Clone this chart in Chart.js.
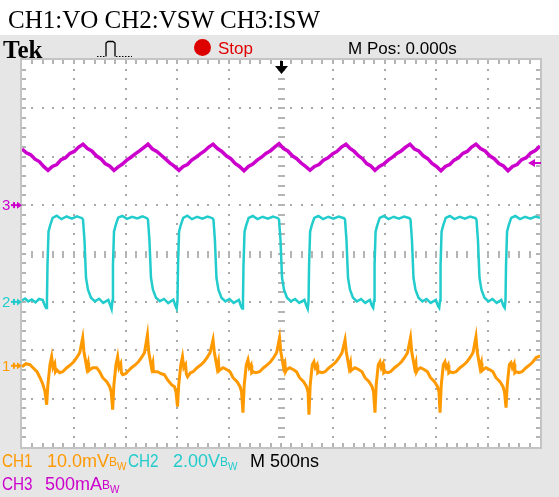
<!DOCTYPE html>
<html>
<head>
<meta charset="utf-8">
<script src="https://cdn.jsdelivr.net/npm/chart.js@4.4.0/dist/chart.umd.min.js"></script>
<style>
  html, body { margin: 0; padding: 0; }
  body { width: 559px; height: 497px; position: relative; overflow: hidden; background: #fff; font-family: 'Liberation Sans', Arial, sans-serif; }
  #band { position: absolute; left: 0; top: 35px; width: 559px; height: 462px; background: #e6e6e6; }
  #scope { position: absolute; left: 0; top: 0; }
  .t { position: absolute; white-space: nowrap; line-height: 1; }
  #title { left: 8px; top: 6px; font: 25px 'Liberation Serif', 'Times New Roman', serif; color: #000; }
  #tek { left: 3px; top: 36px; font: bold 25px 'Liberation Serif', 'Times New Roman', serif; color: #000; }
  #stopDot { position: absolute; left: 194px; top: 39px; width: 17px; height: 17px; border-radius: 50%; background: #dd0000; }
  #stop { left: 218px; top: 40px; font-size: 17px; color: #e00000; }
  #mpos { left: 348px; top: 40px; font-size: 17px; color: #000; }
  .foot { font-size: 18px; }
  .narrow { transform: scaleX(0.85); transform-origin: left center; }
  .bw { font-size: 12px; position: relative; top: -1px; }
  .bw sub { font-size: 10px; vertical-align: -4px; }
  .gnd { font-size: 15px; }
</style>
</head>
<body>
<div id="band"></div>
<canvas id="scope" width="559" height="497"></canvas>

<div class="t" id="title">CH1:VO CH2:VSW CH3:ISW</div>
<div class="t" id="tek">Tek</div>
<svg style="position:absolute;left:97px;top:40px" width="36" height="18">
  <path d="M0 16.5 H9 M19 16.5 H35" stroke="#000" stroke-width="1.2" stroke-dasharray="1.5 1.5"/>
  <path d="M9 16.5 V3 L11 1.5 H16 L18 3 V16.5" fill="none" stroke="#000" stroke-width="1.3"/>
</svg>
<div id="stopDot"></div>
<div class="t" id="stop">Stop</div>
<div class="t" id="mpos">M Pos: 0.000s</div>

<div class="t foot narrow" style="left:2px;top:452px;color:#ff9900">CH1</div>
<div class="t foot" style="left:47px;top:452px;color:#ff9900">10.0mV<span class="bw">B<sub>W</sub></span></div>
<div class="t foot narrow" style="left:128px;top:452px;color:#22cccc">CH2</div>
<div class="t foot" style="left:173px;top:452px;color:#22cccc">2.00V<span class="bw">B<sub>W</sub></span></div>
<div class="t foot" style="left:250px;top:452px;color:#000">M 500ns</div>
<div class="t foot narrow" style="left:2px;top:475px;color:#cc00cc">CH3</div>
<div class="t foot" style="left:45px;top:475px;color:#cc00cc">500mA<span class="bw">B<sub>W</sub></span></div>

<div class="t gnd" id="gnd1" style="left:2px;color:#ff9900">1</div>
<div class="t gnd" id="gnd2" style="left:2px;color:#22cccc">2</div>
<div class="t gnd" id="gnd3" style="left:2px;color:#cc00cc">3</div>

<script>
// ── Réglages de l'oscillo ────────────────────────────────────────────────
const NS_PER_DIV = 500;
const T_MIN = -2500;
const T_MAX = 2500;
const DIVS_Y = 4;

const VO_MV_PER_DIV = 10;      // CH1
const VSW_V_PER_DIV = 2;       // CH2
const ISW_A_PER_DIV = 0.5;     // CH3
const VO_GROUND_DIV = -2.32;
const VSW_GROUND_DIV = -1;
const ISW_GROUND_DIV = 1;
const ISW_TRIGGER_A = 0.435;

// CH3 : courant de l'interrupteur (A)
const iswTrace = [
  [-2500, 0.58], [-2458, 0.54], [-2416, 0.52], [-2374, 0.475], [-2333, 0.45], [-2291, 0.40], [-2249, 0.36],
  [-2207, 0.40], [-2164, 0.42], [-2122, 0.47], [-2080, 0.49], [-2038, 0.535], [-1996, 0.555], [-1953, 0.60], [-1911, 0.63],
  [-1868, 0.585], [-1826, 0.56], [-1783, 0.51], [-1740, 0.48], [-1698, 0.43], [-1655, 0.405], [-1612, 0.36],
  [-1571, 0.395], [-1530, 0.425], [-1489, 0.465], [-1448, 0.495], [-1407, 0.53], [-1366, 0.56], [-1325, 0.595], [-1284, 0.63],
  [-1241, 0.58], [-1199, 0.555], [-1156, 0.515], [-1113, 0.475], [-1071, 0.435], [-1028, 0.40], [-985, 0.36],
  [-944, 0.40], [-903, 0.42], [-862, 0.465], [-821, 0.495], [-779, 0.53], [-738, 0.56], [-697, 0.60], [-656, 0.63],
  [-613, 0.585], [-571, 0.555], [-528, 0.51], [-485, 0.48], [-443, 0.43], [-400, 0.40], [-357, 0.355],
  [-315, 0.40], [-272, 0.425], [-230, 0.465], [-188, 0.495], [-146, 0.535], [-104, 0.56], [-61, 0.60], [-19, 0.635],
  [24, 0.585], [66, 0.56], [109, 0.51], [152, 0.48], [194, 0.435], [237, 0.40], [280, 0.36],
  [323, 0.40], [367, 0.42], [410, 0.465], [454, 0.49], [497, 0.53], [540, 0.555], [584, 0.60], [627, 0.63],
  [667, 0.585], [707, 0.555], [747, 0.51], [787, 0.48], [827, 0.43], [867, 0.405], [907, 0.36],
  [949, 0.40], [992, 0.425], [1034, 0.465], [1076, 0.495], [1118, 0.535], [1160, 0.56], [1203, 0.60], [1245, 0.63],
  [1288, 0.58], [1330, 0.56], [1373, 0.51], [1416, 0.48], [1458, 0.43], [1501, 0.40], [1544, 0.355],
  [1586, 0.40], [1629, 0.42], [1671, 0.465], [1713, 0.49], [1755, 0.535], [1797, 0.555], [1840, 0.60], [1882, 0.63],
  [1926, 0.585], [1970, 0.56], [2014, 0.51], [2058, 0.48], [2103, 0.43], [2147, 0.405], [2191, 0.355],
  [2235, 0.40], [2279, 0.42], [2323, 0.47], [2367, 0.49], [2411, 0.54], [2455, 0.565], [2500, 0.61],
];

// CH2 : tension du noeud de commutation (V)
const vswTrace = [
  [-2500, 0.06], [-2470, 0.14], [-2440, 0.02], [-2405, 0.10], [-2370, -0.02], [-2335, 0.12],
  [-2299, 0.08], [-2279, -0.17], [-2267, -0.25], [-2259, 0.05], [-2254, 1.50], [-2244, 2.90], [-2229, 3.15],
  [-2204, 3.47], [-2164, 3.56], [-2119, 3.42], [-2069, 3.53], [-2019, 3.44], [-1969, 3.54], [-1921, 3.46],
  [-1911, 3.40], [-1897, 2.56], [-1882, 0.99], [-1863, 0.50], [-1834, 0.17], [-1796, 0.02], [-1756, 0.13], [-1716, -0.04],
  [-1667, 0.08], [-1647, -0.15], [-1635, -0.30], [-1627, 0.05], [-1622, 1.50], [-1612, 2.90], [-1597, 3.15],
  [-1572, 3.48], [-1532, 3.55], [-1487, 3.43], [-1437, 3.52], [-1387, 3.45], [-1337, 3.54], [-1294, 3.46],
  [-1284, 3.40], [-1270, 2.56], [-1255, 0.99], [-1236, 0.50], [-1207, 0.17], [-1169, 0.03], [-1129, 0.12], [-1089, -0.05],
  [-1039, 0.09], [-1019, -0.17], [-1007, -0.28], [-999, 0.05], [-994, 1.50], [-984, 2.90], [-969, 3.15],
  [-944, 3.47], [-904, 3.56], [-859, 3.42], [-809, 3.52], [-759, 3.44], [-709, 3.53], [-662, 3.46],
  [-652, 3.40], [-638, 2.56], [-623, 0.99], [-604, 0.50], [-575, 0.17], [-537, 0.02], [-497, 0.12], [-457, -0.04],
  [-407, 0.08], [-387, -0.17], [-375, -0.27], [-367, 0.05], [-362, 1.50], [-352, 2.90], [-337, 3.15],
  [-312, 3.47], [-272, 3.55], [-227, 3.42], [-177, 3.52], [-127, 3.44], [-77, 3.53], [-29, 3.46],
  [-19, 3.40], [-5, 2.56], [10, 0.99], [29, 0.50], [58, 0.17], [96, 0.02], [136, 0.12], [176, -0.04],
  [226, 0.08], [246, -0.17], [258, -0.29], [266, 0.05], [271, 1.50], [281, 2.90], [296, 3.15],
  [321, 3.47], [361, 3.55], [406, 3.42], [456, 3.52], [506, 3.44], [556, 3.53], [608, 3.46],
  [618, 3.40], [632, 2.56], [647, 0.99], [666, 0.50], [695, 0.17], [733, 0.02], [773, 0.12], [813, -0.04],
  [858, 0.08], [878, -0.17], [890, -0.25], [898, 0.05], [903, 1.50], [913, 2.90], [928, 3.15],
  [953, 3.47], [993, 3.55], [1038, 3.42], [1088, 3.52], [1138, 3.44], [1188, 3.53], [1240, 3.46],
  [1250, 3.40], [1264, 2.56], [1279, 0.99], [1298, 0.50], [1327, 0.17], [1365, 0.02], [1405, 0.12], [1445, -0.04],
  [1495, 0.08], [1515, -0.17], [1527, -0.25], [1535, 0.05], [1540, 1.50], [1550, 2.90], [1565, 3.15],
  [1590, 3.47], [1630, 3.55], [1675, 3.42], [1725, 3.52], [1775, 3.44], [1825, 3.53], [1877, 3.46],
  [1887, 3.40], [1901, 2.56], [1916, 0.99], [1935, 0.50], [1964, 0.17], [2002, 0.02], [2042, 0.12], [2082, -0.04],
  [2127, 0.08], [2147, -0.17], [2159, -0.25], [2167, 0.05], [2172, 1.50], [2182, 2.90], [2197, 3.15],
  [2222, 3.47], [2262, 3.55], [2307, 3.42], [2357, 3.52], [2407, 3.44], [2457, 3.53], [2500, 3.48],
];

// CH1 : ondulation de la tension de sortie (mV)
const voTrace = [
  [-2500, -0.21], [-2462, 0.41], [-2423, 0.21], [-2394, -0.41], [-2355, -1.24], [-2326, -2.48], [-2297, -3.93], [-2278, -5.37],
  [-2262, -8.06], [-2250, -3.93], [-2230, 0.21], [-2214, 1.86], [-2201, -0.41], [-2184, 0.41], [-2177, -1.24], [-2165, -0.83], [-2137, -1.45],
  [-2107, -1.24], [-2068, -0.41], [-2030, 0.21], [-2001, 0.83], [-1972, 1.65], [-1943, 2.69], [-1914, 5.78],
  [-1902, 2.89], [-1875, -0.41], [-1862, 0.62], [-1856, -1.03], [-1846, -0.83], [-1817, -0.41], [-1779, -0.41], [-1750, -1.24], [-1721, -2.48],
  [-1682, -3.31], [-1653, -4.34], [-1639, -5.37],
  [-1625, -9.09], [-1613, -3.93], [-1593, 0.21], [-1577, 1.86], [-1564, -0.41], [-1547, 0.41], [-1540, -1.45], [-1528, -1.86], [-1500, -1.66],
  [-1482, -1.24], [-1443, -0.41], [-1405, 0.21], [-1376, 0.83], [-1347, 1.65], [-1318, 2.69], [-1289, 6.40],
  [-1277, 2.89], [-1250, -0.41], [-1237, 0.62], [-1231, -1.24], [-1221, -1.24], [-1192, -1.24], [-1154, -1.66], [-1125, -1.86], [-1096, -2.89],
  [-1057, -3.93], [-1028, -4.34], [-1014, -5.37],
  [-999, -8.47], [-987, -3.93], [-967, 0.21], [-951, 1.86], [-938, -0.41], [-921, 0.21], [-914, -1.66], [-902, -2.27], [-874, -1.45],
  [-849, -1.24], [-810, -0.41], [-772, 0.21], [-743, 0.83], [-714, 1.65], [-685, 2.69], [-656, 5.37],
  [-644, 2.89], [-617, -0.41], [-604, 0.83], [-598, -1.03], [-588, -0.83], [-559, -0.41], [-521, -0.83], [-492, -1.24], [-463, -2.48],
  [-424, -3.31], [-395, -4.34], [-381, -5.37],
  [-367, -9.71], [-355, -3.93], [-335, 0.21], [-319, 1.24], [-306, -0.41], [-289, 0.21], [-282, -1.45], [-270, -1.24], [-242, -1.45],
  [-207, -1.24], [-168, -0.41], [-130, 0.21], [-101, 0.83], [-72, 1.65], [-43, 2.69], [-14, 5.78],
  [-2, 2.89], [25, -0.41], [38, 0.41], [44, -1.24], [54, -0.83], [83, -0.41], [121, -0.83], [150, -1.24], [179, -2.48],
  [218, -3.31], [247, -4.34], [261, -5.37],
  [270, -10.12], [282, -3.93], [302, 0.21], [318, 0.83], [331, -0.41], [348, 0.21], [355, -1.45], [367, -1.24], [395, -1.45],
  [425, -1.24], [464, -0.41], [502, 0.21], [531, 0.83], [560, 1.65], [589, 2.69], [618, 5.37],
  [630, 2.89], [657, -0.41], [670, 0.62], [676, -1.03], [686, -0.83], [715, -0.41], [753, -0.83], [782, -1.24], [811, -2.48],
  [850, -3.31], [879, -4.34], [893, -5.37],
  [907, -9.71], [919, -3.93], [939, 0.21], [955, 0.83], [968, -0.41], [985, 0.41], [992, -1.45], [1004, -1.24], [1032, -1.45],
  [1057, -1.24], [1096, -0.41], [1134, 0.21], [1163, 0.83], [1192, 1.65], [1221, 2.69], [1250, 5.78],
  [1262, 2.89], [1289, -0.41], [1302, 0.62], [1308, -1.24], [1318, -0.83], [1347, -0.41], [1385, -0.83], [1414, -1.24], [1443, -2.48],
  [1482, -3.31], [1511, -4.34], [1525, -5.37],
  [1535, -9.71], [1547, -3.93], [1567, 0.21], [1583, 0.83], [1596, -0.41], [1613, 0.21], [1620, -1.45], [1632, -1.24], [1660, -1.45],
  [1689, -1.24], [1728, -0.41], [1766, 0.21], [1795, 0.83], [1824, 1.65], [1853, 2.69], [1882, 5.99],
  [1894, 2.89], [1921, -0.41], [1934, 0.62], [1940, -1.03], [1950, -0.83], [1979, -0.41], [2017, -0.83], [2046, -1.24], [2075, -2.48],
  [2114, -3.31], [2143, -4.34], [2157, -5.37],
  [2172, -8.68], [2184, -3.93], [2204, 0.21], [2220, 0.62], [2233, -0.41], [2250, 0.41], [2257, -1.45], [2269, -1.24], [2297, -1.45],
  [2326, -1.24], [2365, -0.41], [2403, 0.21], [2432, 0.83], [2461, 1.65], [2500, 2.07],
];

// ── Canaux ───────────────────────────────────────────────────────────────

const channels = [
  { name: 'CH1', trace: voTrace, perDiv: VO_MV_PER_DIV, ground: VO_GROUND_DIV, color: '#ff9900', width: 3 },
  { name: 'CH2', trace: vswTrace, perDiv: VSW_V_PER_DIV, ground: VSW_GROUND_DIV, color: '#22cccc', width: 2.5 },
  { name: 'CH3', trace: iswTrace, perDiv: ISW_A_PER_DIV, ground: ISW_GROUND_DIV, color: '#cc00cc', width: 3.5 },
];

const toDiv = (ch, v) => ch.ground + v / ch.perDiv;

// Graticule + marqueurs façon écran Tek
const scopeDecor = {
  id: 'scopeDecor',
  beforeDraw(chart) {
    const { ctx, chartArea: a, scales: { x, y } } = chart;
    ctx.save();
    ctx.fillStyle = '#fff';
    ctx.fillRect(a.left, a.top, a.right - a.left, a.bottom - a.top);

    // lignes pointillées
    ctx.fillStyle = '#a8a8a8';
    for (let i = 1; i < 10; i++) {
      const px = Math.round(x.getPixelForValue(T_MIN + i * NS_PER_DIV));
      for (let j = 1; j < DIVS_Y * 10; j++) {
        const py = Math.round(y.getPixelForValue(-DIVS_Y + j * 0.2));
        ctx.fillRect(px - 1, py - 1, 2, 2);
      }
    }
    for (let j = 1; j < DIVS_Y * 2; j++) {
      const py = Math.round(y.getPixelForValue(-DIVS_Y + j));
      for (let i = 1; i < 50; i++) {
        const px = Math.round(x.getPixelForValue(T_MIN + i * NS_PER_DIV / 5));
        ctx.fillRect(px - 1, py - 1, 2, 2);
      }
    }

    // graduations des axes centraux
    ctx.fillStyle = '#b4b4b4';
    const cx = Math.round(x.getPixelForValue(0));
    const cy = Math.round(y.getPixelForValue(0));
    for (let j = 1; j < DIVS_Y * 10; j++) {
      const py = Math.round(y.getPixelForValue(-DIVS_Y + j * 0.2));
      ctx.fillRect(cx - 3, py - 1, 7, 2);
    }
    for (let i = 1; i < 50; i++) {
      const px = Math.round(x.getPixelForValue(T_MIN + i * NS_PER_DIV / 5));
      ctx.fillRect(px - 1, cy - 3, 2, 7);
    }

    // bord + graduations
    ctx.fillStyle = '#b4b4b4';
    for (let j = 1; j < DIVS_Y * 10; j++) {
      const py = Math.round(y.getPixelForValue(-DIVS_Y + j * 0.2));
      ctx.fillRect(a.left, py - 1, 4, 2);
      ctx.fillRect(a.right - 4, py - 1, 4, 2);
    }
    for (let i = 1; i < 50; i++) {
      const px = Math.round(x.getPixelForValue(T_MIN + i * NS_PER_DIV / 5));
      ctx.fillRect(px - 1, a.top, 2, 4);
      ctx.fillRect(px - 1, a.bottom - 4, 2, 4);
    }
    ctx.strokeStyle = '#c4c4c4';
    ctx.lineWidth = 2;
    ctx.strokeRect(a.left - 1, a.top - 1, a.right - a.left + 2, a.bottom - a.top + 2);
    ctx.restore();
  },
  afterDatasetsDraw(chart) {
    const { ctx, chartArea: a, scales: { x, y } } = chart;
    ctx.save();
    // position du déclenchement (haut)
    const tx = Math.round(x.getPixelForValue(0));
    ctx.fillStyle = '#000';
    ctx.fillRect(tx - 1, a.top + 1, 3, 7);
    ctx.beginPath();
    ctx.moveTo(tx - 6, a.top + 6);
    ctx.lineTo(tx + 7, a.top + 6);
    ctx.lineTo(tx + 0.5, a.top + 14);
    ctx.closePath();
    ctx.fill();

    // niveau de déclenchement CH3 (droite)
    const ty = y.getPixelForValue(toDiv(channels[2], ISW_TRIGGER_A));
    ctx.fillStyle = '#cc00cc';
    ctx.beginPath();
    ctx.moveTo(a.right - 12, ty);
    ctx.lineTo(a.right - 5, ty - 4);
    ctx.lineTo(a.right - 5, ty + 4);
    ctx.closePath();
    ctx.fill();
    ctx.fillRect(a.right - 6, ty - 1, 7, 2);

    // marqueurs de masse (gauche)
    channels.forEach(ch => {
      const gy = y.getPixelForValue(ch.ground);
      ctx.fillStyle = ch.color;
      ctx.fillRect(11, gy - 1, 9, 2);
      ctx.fillRect(13, gy - 3, 2, 6);
      ctx.beginPath();
      ctx.moveTo(a.left, gy);
      ctx.lineTo(a.left - 5, gy - 3.5);
      ctx.lineTo(a.left - 5, gy + 3.5);
      ctx.closePath();
      ctx.fill();
    });
    ctx.restore();
  },
};

const chart = new Chart(document.getElementById('scope'), {
  type: 'line',
  plugins: [scopeDecor],
  data: {
    datasets: channels.map(ch => ({
      label: ch.name,
      data: ch.trace.map(([t, v]) => ({ x: t, y: toDiv(ch, v) })),
      borderColor: ch.color,
      borderWidth: ch.width,
      pointRadius: 0,
      tension: 0,
      fill: false,
    })),
  },
  options: {
    responsive: false,
    animation: false,
    events: [],
    layout: { padding: { left: 22, top: 60, right: 19, bottom: 50 } },
    plugins: { legend: { display: false }, tooltip: { enabled: false } },
    scales: {
      x: { type: 'linear', min: T_MIN, max: T_MAX, display: false },
      y: { type: 'linear', min: -DIVS_Y, max: DIVS_Y, display: false },
    },
  },
});

// étiquettes 1/2/3 alignées sur la masse de chaque voie
channels.forEach((ch, i) => {
  const gy = chart.scales.y.getPixelForValue(ch.ground);
  document.getElementById('gnd' + (i + 1)).style.top = (gy - 8) + 'px';
});
</script>
</body>
</html>
